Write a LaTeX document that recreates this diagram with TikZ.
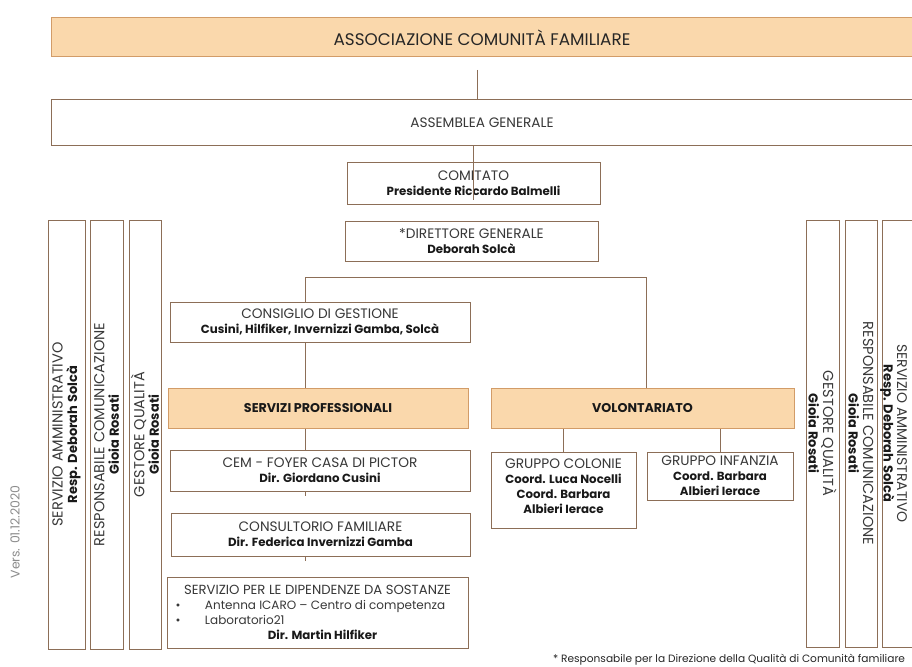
\documentclass[tikz,border=0pt]{standalone}
\usepackage{fontspec}
\setsansfont{Poppins}
\renewcommand{\familydefault}{\sfdefault}
\usepackage{tikz}
\definecolor{peach}{HTML}{FAD8AC}
\definecolor{peachline}{HTML}{D29C68}
\definecolor{brownline}{HTML}{8C6E57}
\definecolor{txtgray}{HTML}{383838}
\newcommand{\nm}[1]{{\bfseries\color{black!90}\fontsize{11.8}{15}\selectfont #1}}
\newcommand{\nmhead}[1]{{\bfseries\color{black!90}\fontsize{12.7}{15}\selectfont #1}}
\newcommand{\nmside}[1]{{\bfseries\color{black!90}\fontsize{13}{14.5}\selectfont #1}}

\begin{document}
\begin{tikzpicture}[x=1pt,y=-1pt]
			\tikzstyle{every node}+=[inner sep=0pt, text=txtgray, font=\fontsize{13.7}{15}\selectfont]
			\tikzstyle{orgbox}=[draw=brownline, line width=1pt, fill=white, align=center]
			\tikzstyle{headbox}=[orgbox, draw=peachline, fill=peach]
			\tikzstyle{sidebox}=[orgbox, font=\fontsize{14.5}{14.5}\selectfont]
			\tikzstyle{wire}=[draw=brownline, line width=0.9pt]
			\useasboundingbox (0,0) rectangle (912,666);
			\clip (0,0) rectangle (912,666);
			\fill [white] (0,0) rectangle (912,666);
			\node [headbox, minimum width=862, minimum height=39, text=black!85, font=\fontsize{16.8}{18}\selectfont] (assoc) at (482,37.5) {ASSOCIAZIONE COMUNITÀ FAMILIARE};
			\node [orgbox, minimum width=862, minimum height=45] (assem) at (482,122.5) {ASSEMBLEA GENERALE};
			\node [orgbox, minimum width=253, minimum height=42] (comitato) at (473.5,183) {COMITATO\\\nm{Presidente Riccardo Balmelli}};
			\node [orgbox, minimum width=253, minimum height=40] (diret) at (471.5,241) {*DIRETTORE GENERALE\\\nm{Deborah Solcà}};
			\node [orgbox, minimum width=300, minimum height=40] (consiglio) at (320,322) {CONSIGLIO DI GESTIONE\\\nm{Cusini, Hilfiker, Invernizzi Gamba, Solcà}};
			\node [headbox, minimum width=300, minimum height=40] (servprof) at (318,408) {\nmhead{SERVIZI PROFESSIONALI}};
			\node [headbox, minimum width=303, minimum height=40] (volont) at (642.5,408) {\nmhead{VOLONTARIATO}};
			\node [orgbox, minimum width=300, minimum height=41] (cem) at (320,470.5) {CEM - FOYER CASA DI PICTOR\\\nm{Dir. Giordano Cusini}};
			\node [orgbox, minimum width=299, minimum height=43] (consult) at (320.5,534.5) {CONSULTORIO FAMILIARE\\\nm{Dir. Federica Invernizzi Gamba}};
			\node [orgbox, align=flush center, minimum width=301, minimum height=71, text width=290, font=\fontsize{13.2}{15}\selectfont] (dipend) at (317.5,612.5) {SERVIZIO PER LE DIPENDENZE DA SOSTANZE\\
				\makebox[290pt][l]{\fontsize{12}{15}\selectfont\hspace{3pt}\makebox[29.5pt][l]{•}Antenna ICARO – Centro di competenza}\\
				\makebox[290pt][l]{\fontsize{12}{15}\selectfont\hspace{3pt}\makebox[29.5pt][l]{•}Laboratorio21}\\
				\hspace*{10pt}\nm{Dir. Martin Hilfiker}};
			\node [orgbox, minimum width=145, minimum height=76] (colonie) at (563.5,490) {GRUPPO COLONIE\\\nm{Coord. Luca Nocelli}\\\nm{Coord. Barbara}\\\nm{Albieri Ierace}\\[-8pt]\mbox{}};
			\node [orgbox, minimum width=146, minimum height=48] (infanzia) at (720,476) {GRUPPO INFANZIA\\\nm{Coord. Barbara}\\\nm{Albieri Ierace}};
			\node [sidebox, rotate=90, minimum width=429, minimum height=37] (amminL) at (66.5,434.5) {SERVIZIO AMMINISTRATIVO\\\nmside{Resp. Deborah Solcà}};
			\node [sidebox, rotate=90, minimum width=429, minimum height=33] (comunL) at (106.5,434.5) {RESPONSABILE COMUNICAZIONE\\\nmside{Gioia Rosati}};
			\node [sidebox, rotate=90, minimum width=429, minimum height=32] (qualL) at (145,434.5) {GESTORE QUALITÀ\\\nmside{Gioia Rosati}};
			\node [sidebox, rotate=-90, minimum width=427, minimum height=33] (qualR) at (822.5,433.5) {GESTORE QUALITÀ\\\nmside{Gioia Rosati}};
			\node [sidebox, rotate=-90, minimum width=427, minimum height=32] (comunR) at (861,433.5) {RESPONSABILE COMUNICAZIONE\\\nmside{Gioia Rosati}};
			\node [sidebox, rotate=-90, minimum width=427, minimum height=36] (amminR) at (900,433.5) {};
			\node [rotate=-90, align=center, font=\fontsize{14}{13.5}\selectfont] (amminRtxt) at (amminR.center -| 893.5,0) {SERVIZIO AMMINISTRATIVO\\\nmside{Resp. Deborah Solcà}};
			\node [rotate=90, text=black!45, font=\fontsize{12.5}{13}\selectfont] (vers) at (15,532) {Vers. 01.12.2020};
			\node [anchor=west, text=black!85, font=\fontsize{10.6}{12}\selectfont] (nota) at (553,660) {* Responsabile per la Direzione della Qualità di Comunità familiare};
			\coordinate (assocstub) at (477,70);
			\coordinate (lbar) at (305,277);
			\coordinate (rbar) at (646,277);
			\draw [wire] (assocstub) -- (assocstub |- assem.north);
			\draw [wire] (comitato.north |- assem.south) -- ([yshift=5pt]comitato.south);
			\draw [wire] (lbar |- consiglio.north) -- (lbar) -- (rbar) -- (rbar |- volont.north);
			\draw [wire] (lbar |- consiglio.south) -- (lbar |- servprof.north);
			\draw [wire] (lbar |- servprof.south) -- (lbar |- cem.north);
			\draw [wire] (lbar |- cem.south) -- ++(0,4);
			\draw [wire] (lbar |- consult.south) -- ++(0,4);
			\draw [wire] (colonie.north) -- (colonie.north |- volont.south);
			\draw [wire] (infanzia.north) -- (infanzia.north |- volont.south);
		\end{tikzpicture}
\end{document}
